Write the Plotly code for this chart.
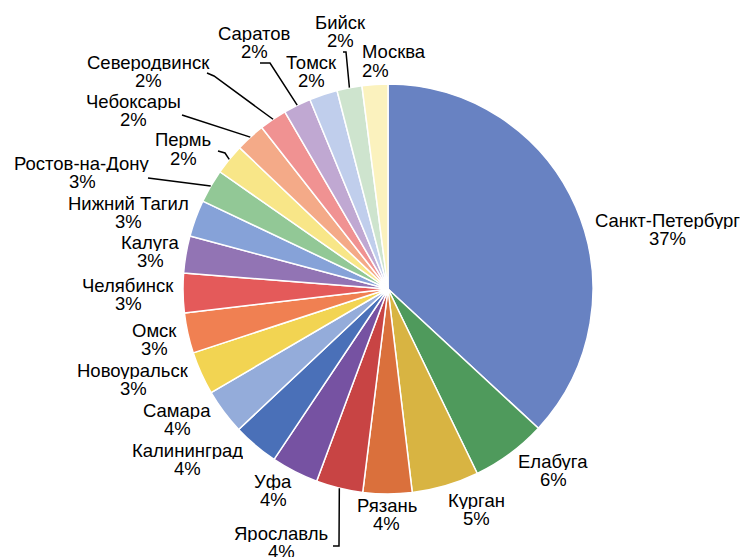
import math
import plotly.graph_objects as go

# ---- data ----
cities = ["Санкт-Петербург", "Елабуга", "Курган", "Рязань", "Ярославль", "Уфа",
          "Калининград", "Самара", "Новоуральск", "Омск", "Челябинск", "Калуга",
          "Нижний Тагил", "Ростов-на-Дону", "Пермь", "Чебоксары", "Северодвинск",
          "Саратов", "Томск", "Бийск", "Москва"]
shares = [36.89, 5.94, 5.28, 3.86, 3.69, 3.72, 3.61, 3.58, 3.39, 3.17, 3.11,
          2.92, 2.89, 2.64, 2.42, 2.33, 2.17, 2.17, 2.22, 1.97, 2.03]

# ---- style / layout ----
colors = ["#6882C2", "#4F9A5C", "#D8B442", "#DA703C", "#C84444", "#7652A2",
          "#4A70B8", "#94ACDA", "#F2D452", "#F08052", "#E45A5A", "#9274B4",
          "#86A2D8", "#92C896", "#F8E688", "#F4AA88", "#F09292", "#C0A8D2",
          "#C0CEEC", "#CEE4CE", "#FBF2BE"]

W, H = 749, 557
OFF = 8                      # page body margin
PIE_CX, PIE_CY, PIE_R = 388, 289, 205   # target pie position in screenshot pixels

# label block position: (center x, middle y of the name line), screenshot px
label_pos = [(667, 220), (553, 461), (477, 500), (387, 505), (281, 533),
             (273, 481), (187, 450), (177, 410), (133, 370), (154, 330),
             (128, 285), (150, 242), (128, 203), (82, 163), (183, 140),
             (133, 101), (148, 62), (254, 33), (311, 62), (340, 22), (361, 52)]
label_anchor = {"Москва": "left"}
LINE_GAP = 18.5
# leader lines: label-side points (screenshot px); last point comes from slice angle
leaders = {
    "Ярославль": [(333, 546), (339, 546)],
    "Ростов-на-Дону": [(148, 178)],
    "Пермь": [(218, 151), (225, 153)],
    "Чебоксары": [(182, 115)],
    "Северодвинск": [(207, 73), (214, 76)],
    "Саратов": [(260, 63), (270, 63)],
    "Бийск": [(343, 52), (346, 52)],
}
FONT = "Liberation Sans, Arial, Helvetica, sans-serif"
FSIZE = 18.5


def px(x):
    return (x - OFF) / W


def py(y):
    return 1 - (y - OFF) / H


dom_x = [px(PIE_CX - PIE_R), px(PIE_CX + PIE_R)]
dom_y = [py(PIE_CY + PIE_R), py(PIE_CY - PIE_R)]

fig = go.Figure(go.Pie(
    labels=cities, values=shares, sort=False, direction="clockwise", rotation=0,
    marker=dict(colors=colors, line=dict(color="white", width=1.5)),
    textinfo="none", hoverinfo="label+percent", showlegend=False,
    automargin=False, domain=dict(x=dom_x, y=dom_y),
))

total = sum(shares)
cum = 0.0
annotations, shapes = [], []
for name, v, (lx, ly) in zip(cities, shares, label_pos):
    mid = (cum + v / 2) / total * 2 * math.pi
    cum += v
    pct = f"{round(v / total * 100)}%"
    anchor = label_anchor.get(name, "center")
    for txt, yy in ((name, ly), (pct, ly + LINE_GAP)):
        annotations.append(dict(
            text=txt, x=px(lx), y=py(yy), xref="paper", yref="paper",
            xanchor=anchor, yanchor="middle", showarrow=False, height=17,
            borderpad=0,
            font=dict(family=FONT, size=FSIZE, color="black")))
    if name in leaders:
        pts = list(leaders[name])
        pts.append((PIE_CX + PIE_R * math.sin(mid), PIE_CY - PIE_R * math.cos(mid)))
        path = "M " + " L ".join(f"{px(a):.5f},{py(b):.5f}" for a, b in pts)
        shapes.append(dict(type="path", path=path, xref="paper", yref="paper",
                           line=dict(color="black", width=1.5)))

fig.update_layout(width=W, height=H, margin=dict(l=0, r=0, t=0, b=0),
                  paper_bgcolor="white", plot_bgcolor="white",
                  annotations=annotations, shapes=shapes)
fig.write_html("out.html")
